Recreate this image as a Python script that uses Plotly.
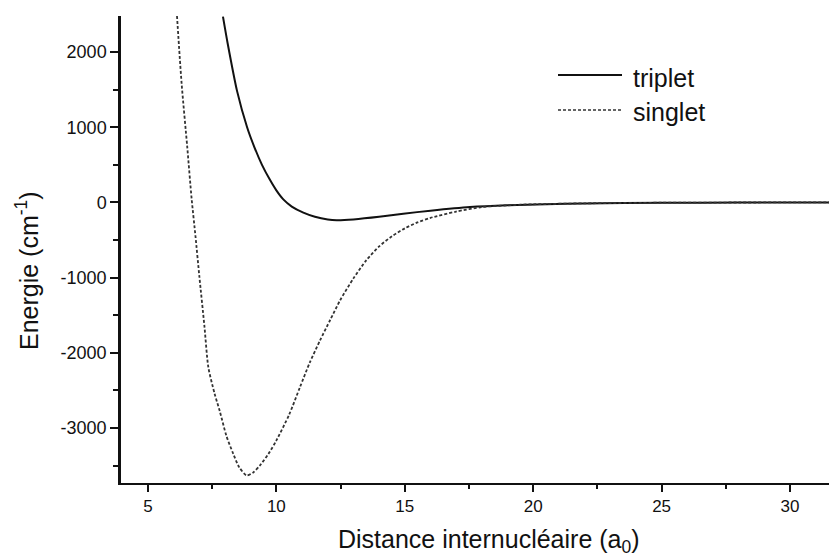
import plotly.graph_objects as go

# Triplet potential curve (solid)
triplet_r = [7.92, 8.1, 8.47, 8.86, 9.15, 9.44, 9.75, 10.0, 10.27, 10.6, 11.05, 11.5, 12.0, 12.35,
             13.0, 14.0, 14.94, 16.0, 17.54, 19.0, 20.5, 22.0, 25.0, 28.0, 32.0]
triplet_e = [2470, 2120, 1480, 1000, 730, 500, 300, 160, 40, -55, -135, -190, -226, -236,
             -226, -192, -150, -110, -62, -38, -25, -14, -5, -2, 0]

# Singlet potential curve (dashed)
singlet_r = [6.13, 6.31, 6.53, 6.70, 6.85, 7.0, 7.2, 7.35, 7.6, 7.8, 8.05, 8.32, 8.55, 8.84,
             9.1, 9.36, 9.7, 10.0, 10.5, 10.92, 11.3, 11.7, 12.1, 12.48, 13.0, 13.5, 14.0,
             14.5, 15.0, 15.5, 16.0, 17.0, 18.0, 19.0, 20.0, 22.0, 25.0, 28.0, 32.0]
singlet_e = [2480, 1582, 735, 50, -450, -980, -1650, -2190, -2550, -2780, -3100, -3342, -3520,
             -3630, -3590, -3497, -3340, -3165, -2820, -2456, -2130, -1835, -1560, -1303, -1010,
             -770, -585, -450, -345, -265, -205, -122, -62, -38, -25, -12, -4, -1, 0]

x_ticks = [5, 10, 15, 20, 25, 30]
y_ticks = [-3000, -2000, -1000, 0, 1000, 2000]
y_tick_text = ["-3000", "-2000", "-1000", "0", "1000", "2000"]
legend_labels = ["triplet", "singlet"]

ink = "#111111"
OFF = 8  # page body margin
W, H = 837 - OFF, 558 - OFF
L, R, T, B = 121 - OFF, 0, 16 - OFF, 75
PL, PT, PR, PB = 121, 16, 837, 483  # plot box in screen pixels


def px(xp):
    return (xp - PL) / (PR - PL)


def py(yp):
    return (PB - yp) / (PB - PT)


fig = go.Figure()
fig.add_trace(go.Scatter(x=triplet_r, y=triplet_e, mode="lines",
                         line=dict(color=ink, width=2, shape="spline", smoothing=0.6),
                         name=legend_labels[0], showlegend=False))
fig.add_trace(go.Scatter(x=singlet_r, y=singlet_e, mode="lines",
                         line=dict(color="#333333", width=1.8, dash="3px,2px", shape="spline", smoothing=0.7),
                         name=legend_labels[1], showlegend=False))

font = "Liberation Sans, Arial, Helvetica, sans-serif"

fig.update_layout(
    width=W, height=H,
    margin=dict(l=L, r=R, t=T, b=B, autoexpand=False),
    paper_bgcolor="white", plot_bgcolor="white",
    font=dict(family=font, color=ink, size=18),
    xaxis=dict(range=[3.95, 31.83], tickvals=x_ticks, showgrid=False, zeroline=False,
               showline=True, linecolor=ink, linewidth=2, ticks="outside", ticklen=7,
               tickwidth=2, tickcolor=ink, tickfont=dict(size=17),
               minor=dict(dtick=2.5, tick0=0, ticks="outside", ticklen=4, tickwidth=2, tickcolor=ink),
               ),
    yaxis=dict(range=[-3731, 2479], tickvals=y_ticks, ticktext=y_tick_text, showgrid=False,
               zeroline=False, showline=True, linecolor=ink, linewidth=2.5, ticks="outside", ticklen=8,
               tickwidth=2, tickcolor=ink, tickfont=dict(size=18),
               minor=dict(dtick=500, tick0=0, ticks="outside", ticklen=5, tickwidth=2, tickcolor=ink),
               ),
)

# Axis titles
fig.add_annotation(text="Distance internucléaire (a<sub>0</sub>)", xref="paper", yref="paper",
                   x=px(489), y=py(541), xanchor="center", yanchor="middle", showarrow=False,
                   font=dict(size=25, color=ink, family=font))
fig.add_annotation(text="Energie (cm<sup>-1</sup>)", xref="paper", yref="paper",
                   x=px(27), y=py(271), xanchor="center", yanchor="middle", showarrow=False,
                   textangle=-90, font=dict(size=25, color=ink, family=font))

# Legend (drawn)
fig.add_shape(type="line", xref="paper", yref="paper", x0=px(558), x1=px(622), y0=py(75), y1=py(75),
              line=dict(color=ink, width=2))
fig.add_shape(type="line", xref="paper", yref="paper", x0=px(558), x1=px(622), y0=py(110), y1=py(110),
              line=dict(color="#333333", width=1.5, dash="3px,2px"))
fig.add_annotation(text=legend_labels[0], xref="paper", yref="paper", x=px(631), y=py(78),
                   xanchor="left", yanchor="middle", showarrow=False, font=dict(size=25, color=ink, family=font))
fig.add_annotation(text=legend_labels[1], xref="paper", yref="paper", x=px(631), y=py(112),
                   xanchor="left", yanchor="middle", showarrow=False, font=dict(size=25, color=ink, family=font))

fig.write_html("out.html")
